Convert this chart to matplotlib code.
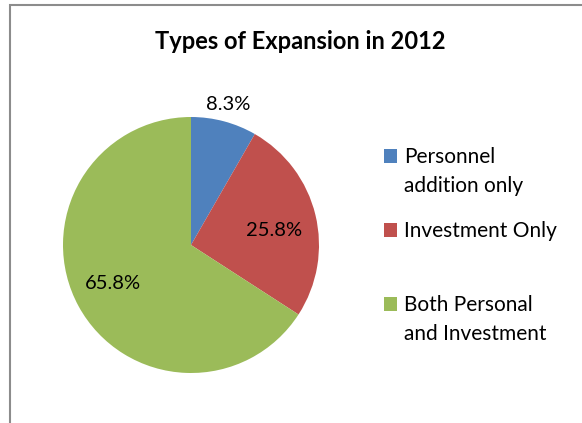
import numpy as np
import matplotlib
matplotlib.use("Agg")
import matplotlib.pyplot as plt
from matplotlib.patches import Rectangle

plt.rcParams['font.family'] = ['Lato', 'DejaVu Sans']

categories = ["Personnel\naddition only", "Investment Only", "Both Personal\nand Investment"]
shares = [8.3, 25.8, 65.8]
colors = ["#4F81BD", "#C0504D", "#9BBB59"]

fig = plt.figure(figsize=(5.82, 4.23), dpi=100)

# chart frame (cut off at right/bottom like the screenshot)
fig.patches.append(Rectangle((10 / 582, -0.05), 1.0, 1 - 5 / 423 + 0.05,
                             transform=fig.transFigure, fill=False,
                             edgecolor="#8c8c8c", linewidth=1.5))

ax = fig.add_axes([63 / 582, 50 / 423, 256 / 582, 256 / 423])
wedges, _ = ax.pie(shares, colors=colors, startangle=90, counterclock=False,
                   wedgeprops=dict(linewidth=0))
ax.set_xlim(-1, 1)
ax.set_ylim(-1, 1)
ax.set_aspect("equal")

# percentage labels (radius, angle nudge)
label_pos = [(1.14, 0), (0.66, -3.5), (0.68, -2)]
total = sum(shares)
start = 90.0
for val, (d, nudge) in zip(shares, label_pos):
    span = val / total * 360
    mid = np.deg2rad(start - span / 2 + nudge)
    ax.text(d * np.cos(mid), d * np.sin(mid), f"{val:.1f}%",
            ha="center", va="center", fontsize=14.5, color="#000000",
            clip_on=False)
    start -= span

fig.text(300 / 582, 1 - 49 / 423, "Types of Expansion in 2012",
         ha="center", va="baseline", fontsize=17, fontweight="bold")

# legend
leg_base = [163, 237, 311]
for cat, col, y in zip(categories, colors, leg_base):
    fig.patches.append(Rectangle((384 / 582, 1 - y / 423), 13 / 582, 14 / 423,
                                 transform=fig.transFigure, facecolor=col,
                                 edgecolor="none"))
    for i, line in enumerate(cat.split("\n")):
        fig.text(404 / 582, 1 - (y + 29 * i) / 423, line, ha="left",
                 va="baseline", fontsize=15)

fig.savefig("out.png", dpi=100)
